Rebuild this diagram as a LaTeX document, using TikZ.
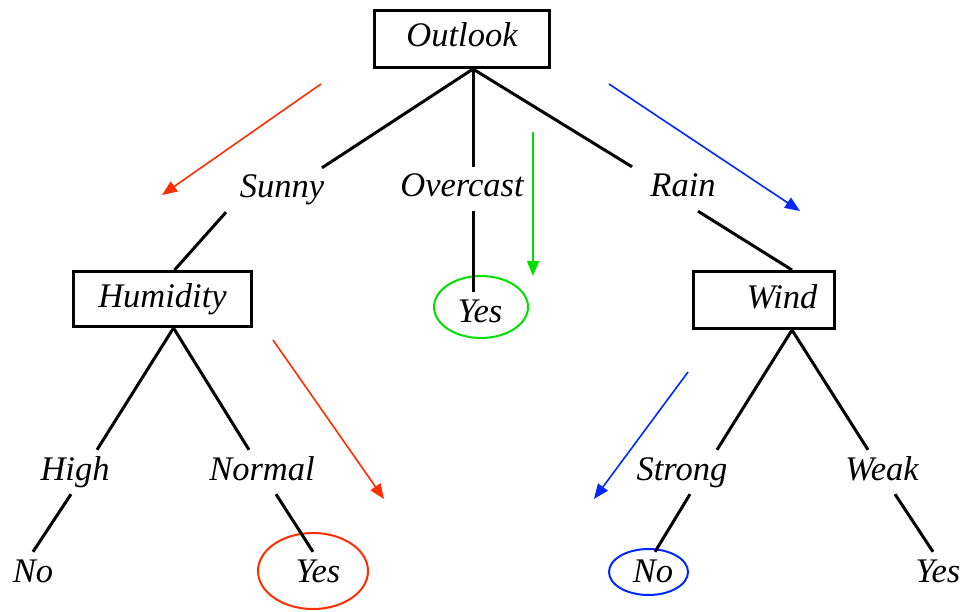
\documentclass[tikz,border=0pt]{standalone}
\usepackage{fontspec}
\setmainfont{Liberation Serif}[ItalicFont={Liberation Serif Italic}]
\newfontfamily\treefont{Liberation Serif Italic}
\usetikzlibrary{arrows.meta,shapes.geometric}
\definecolor{arrred}{RGB}{255,45,0}
\definecolor{arrgreen}{RGB}{0,225,0}
\definecolor{arrblue}{RGB}{0,40,255}
\begin{document}
\begin{tikzpicture}[x=1pt,y=-1pt,
  txt/.style={font=\treefont\fontsize{34.5}{40}\selectfont, text height=24pt, text depth=8pt, inner xsep=0pt, inner ysep=6pt},
  attrbox/.style={txt, draw, line width=3pt, inner ysep=0pt},
  branch/.style={line width=3pt},
  hint/.style={line width=1.6pt, -{Triangle[length=15pt,width=12pt]}},
  ring/.style={line width=2pt, ellipse, inner sep=0pt}]
\useasboundingbox (0,0) rectangle (965,612);

% attribute boxes
\node[attrbox, minimum width=175pt, minimum height=57pt] (outlook) at (462,39) {Outlook};
\node[attrbox, minimum width=178.5pt, minimum height=55pt] (humidity) at (162.5,299) {Humidity};
\node[attrbox, minimum width=141pt, minimum height=57pt] (wind) at (764,300) {\hspace*{36pt}Wind};

% branch labels
\node[txt] (sunny) at (282,190) {Sunny};
\node[txt] (overcast) at (462,189) {Overcast};
\node[txt] (rain) at (683,189) {Rain};
\node[txt] (high) at (75,472) {High};
\node[txt] (normal) at (262,472) {Normal};
\node[txt] (strong) at (682,472) {Strong};
\node[txt] (weak) at (882,472) {Weak};

% leaves
\node[txt] (yes1) at (480,314) {Yes};
\node[txt] (no1) at (33,574) {No};
\node[txt] (yes2) at (318,574) {Yes};
\node[txt] (no2) at (653,574) {No};
\node[txt] (yes3) at (938,574) {Yes};

% rings
\node[ring, draw=arrgreen, minimum width=94pt, minimum height=62pt] (ring1) at (481,307) {};
\node[ring, draw=arrred, minimum width=110pt, minimum height=76pt] (ring2) at (313,571) {};
\node[ring, draw=arrblue, minimum width=79pt, minimum height=46pt] (ring3) at (648.5,572) {};

% tree branches
\draw[branch] ([xshift=11pt]outlook.south) -- ([xshift=40pt]sunny.north);
\draw[branch] ([xshift=11pt]outlook.south) -- ([xshift=11pt]overcast.north);
\draw[branch] ([xshift=11pt]outlook.south) -- ([xshift=-51pt]rain.north);
\draw[branch] ([xshift=-56pt]sunny.south) -- ([xshift=12pt]humidity.north);
\draw[branch] ([xshift=11pt]overcast.south) -- ([xshift=-7pt]yes1.north);
\draw[branch] ([xshift=15pt]rain.south) -- ([xshift=28pt]wind.north);
\draw[branch] ([xshift=11pt]humidity.south) -- ([xshift=22pt]high.north);
\draw[branch] ([xshift=11pt]humidity.south) -- ([xshift=-13pt]normal.north);
\draw[branch] ([xshift=28pt]wind.south) -- ([xshift=35pt]strong.north);
\draw[branch] ([xshift=28pt]wind.south) -- ([xshift=-14pt]weak.north);
\draw[branch] ([xshift=-4pt]high.south) -- (no1.north);
\draw[branch] ([xshift=14pt]normal.south) -- ([xshift=-5pt]yes2.north);
\draw[branch] ([xshift=8pt]strong.south) -- ([xshift=2pt]no2.north);
\draw[branch] ([xshift=13pt]weak.south) -- ([xshift=-5pt]yes3.north);

% hint arrows
\coordinate (r1s) at (321,84);  \coordinate (r1e) at (162,195);
\coordinate (b1s) at (609,84);  \coordinate (b1e) at (800,211);
\coordinate (g1s) at (533,132); \coordinate (g1e) at (533,276);
\coordinate (r2s) at (273,340); \coordinate (r2e) at (384,499);
\coordinate (b2s) at (688,372); \coordinate (b2e) at (594,499);
\draw[hint, arrred] (r1s) -- (r1e);
\draw[hint, arrblue] (b1s) -- (b1e);
\draw[hint, arrgreen] (g1s) -- (g1e);
\draw[hint, arrred] (r2s) -- (r2e);
\draw[hint, arrblue] (b2s) -- (b2e);
\end{tikzpicture}
\end{document}
